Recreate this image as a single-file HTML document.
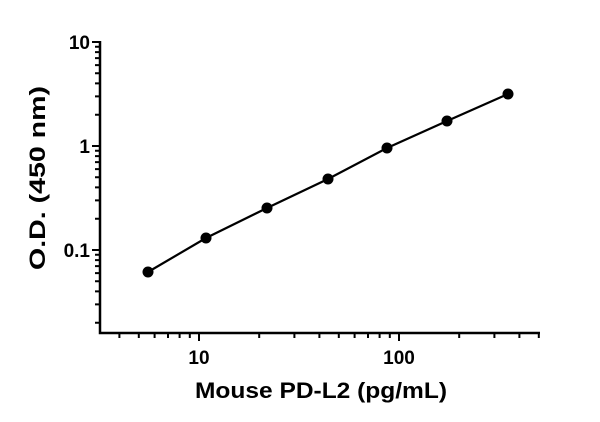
<!DOCTYPE html>
<html><head><meta charset="utf-8"><style>html,body{margin:0;padding:0;background:#fff}svg{display:block}</style></head>
<body>
<svg width="600" height="422" viewBox="0 0 600 422" xmlns="http://www.w3.org/2000/svg" font-family="Liberation Sans, sans-serif" font-weight="bold">
<g stroke="#000" stroke-width="2.5" fill="none">
<path d="M100,41 V333 H540"/>
</g>
<g stroke="#000" stroke-width="2">
<path d="M92,42H100M92,146H100M92,250H100"/>
<path d="M95,114.7H100M95,96.4H100M95,83.4H100M95,73.3H100M95,65.1H100M95,58.1H100M95,52.1H100M95,46.8H100"/>
<path d="M95,218.7H100M95,200.4H100M95,187.4H100M95,177.3H100M95,169.1H100M95,162.1H100M95,156.1H100M95,150.8H100"/>
<path d="M95,322.7H100M95,304.4H100M95,291.4H100M95,281.3H100M95,273.1H100M95,266.1H100M95,260.1H100M95,254.8H100"/>
<path d="M199,333V341M399,333V341"/>
<path d="M119.4,333V338M138.8,333V338M154.6,333V338M168,333V338M179.6,333V338M189.8,333V338"/>
<path d="M259.2,333V338M294.4,333V338M319.4,333V338M338.8,333V338M354.6,333V338M368,333V338M379.6,333V338M389.8,333V338"/>
<path d="M459.2,333V338M494.4,333V338M519.4,333V338M538.8,333V338"/>
</g>
<polyline points="148,272 206,238 267,208 328,179 387,148 447,121 508,94" fill="none" stroke="#000" stroke-width="2.2"/>
<g fill="#000">
<circle cx="148" cy="272" r="5.5"/><circle cx="206" cy="238" r="5.5"/><circle cx="267" cy="208" r="5.5"/><circle cx="328" cy="179" r="5.5"/><circle cx="387" cy="148" r="5.5"/><circle cx="447" cy="121" r="5.5"/><circle cx="508" cy="94" r="5.5"/>
</g>
<g font-size="19" text-anchor="end">
<text x="90" y="49">10</text>
<text x="90" y="153">1</text>
<text x="90" y="257">0.1</text>
</g>
<g font-size="19" text-anchor="middle">
<text x="199" y="364">10</text>
<text x="399" y="364">100</text>
</g>
<text x="321" y="398" font-size="22" text-anchor="middle" textLength="252" lengthAdjust="spacingAndGlyphs">Mouse PD-L2 (pg/mL)</text>
<text transform="translate(45,178) rotate(-90)" font-size="22" text-anchor="middle" textLength="184" lengthAdjust="spacingAndGlyphs">O.D. (450 nm)</text>
</svg>
</body></html>
